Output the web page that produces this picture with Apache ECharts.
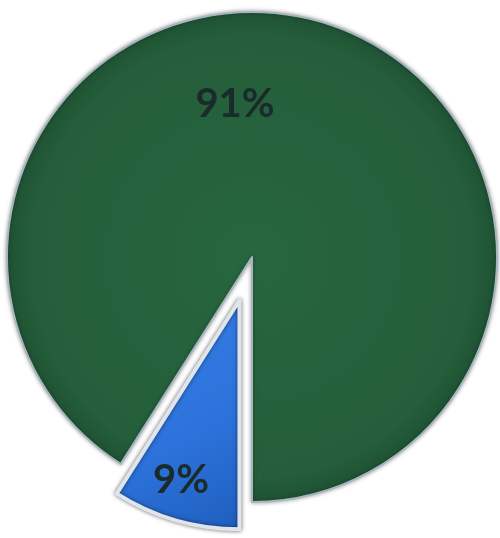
<!DOCTYPE html>
<html>
<head>
<meta charset="utf-8">
<script src="https://cdn.jsdelivr.net/npm/echarts@6/dist/echarts.min.js"></script>
<style>
html,body{margin:0;padding:0;background:#fff;}
#chart{width:500px;height:538px;}
</style>
</head>
<body>
<div id="chart"></div>
<script>
const categories = ['Blue', 'Green'];
const values = [9, 91];
const labels = ['9%', '91%'];

const chart = echarts.init(document.getElementById('chart'));

const greenFill = {
  type: 'radial', x: 0.5, y: 0.5, r: 0.5,
  colorStops: [{offset: 0, color: '#27663f'}, {offset: 0.9, color: '#245e3a'}, {offset: 1, color: '#1f5233'}]
};
const blueFill = {
  type: 'linear', x: 0, y: 0, x2: 1, y2: 1,
  colorStops: [{offset: 0, color: '#3580e6'}, {offset: 0.6, color: '#2c72da'}, {offset: 1, color: '#1f5ebd'}]
};

const labelStyle = {
  show: true, position: 'inside', fontFamily: 'Lato', fontWeight: 'bold',
  fontSize: 40, color: '#1b2a2a'
};

chart.setOption({
  backgroundColor: '#ffffff',
  animation: false,
  series: [
    {
      type: 'pie', silent: true, center: [252, 257], radius: 245,
      startAngle: -90, clockwise: true, selectedMode: false,
      label: {show: false}, labelLine: {show: false},
      data: categories.map((c, i) => ({
        name: c, value: values[i],
        itemStyle: i === 1
          ? {color: greenFill, borderColor: '#a5b6bf', borderWidth: 2, shadowBlur: 4, shadowColor: 'rgba(0,0,0,0.35)'}
          : {color: 'rgba(0,0,0,0)', borderWidth: 0},
        label: i === 1 ? Object.assign({}, labelStyle, {formatter: labels[i], offset: [-52, -32]}) : {show: false}
      }))
    },
    {
      type: 'pie', silent: true, center: [252, 257], radius: 229,
      startAngle: -90, clockwise: true, selectedMode: 'single', selectedOffset: 45,
      labelLine: {show: false},
      label: Object.assign({}, labelStyle, {formatter: labels[0], offset: [3, 65]}),
      select: {label: Object.assign({}, labelStyle, {formatter: labels[0], offset: [3, 65]})},
      data: categories.map((c, i) => ({
        name: c, value: values[i], selected: i === 0,
        itemStyle: i === 0
          ? {color: blueFill, borderColor: '#dfe5ea', borderWidth: 4, shadowBlur: 4, shadowColor: 'rgba(0,0,0,0.5)'}
          : {color: 'rgba(0,0,0,0)', borderWidth: 0},
        label: i === 0 ? {} : {show: false}
      }))
    }
  ]
});
</script>
</body>
</html>
